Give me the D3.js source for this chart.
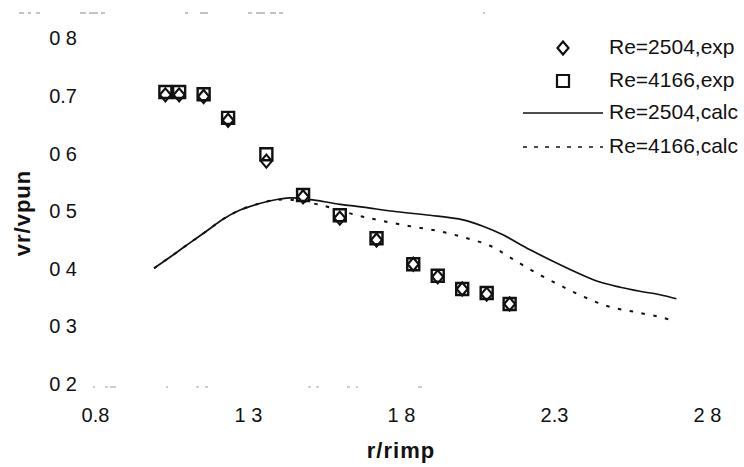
<!DOCTYPE html>
<html>
<head>
<meta charset="utf-8">
<script src="https://cdn.jsdelivr.net/npm/d3@7"></script>
<style>
  body { margin: 0; background: #fff; }
  svg text { font-family: "Liberation Sans", Arial, sans-serif; fill: #111; }
</style>
</head>
<body>
<div id="chart"></div>
<script>
// experimental points (r/rimp vs vr/vpun)
var expX = [1.03, 1.075, 1.155, 1.235, 1.36, 1.48, 1.60, 1.72, 1.84, 1.92, 2.00, 2.08, 2.155];
var exp2504 = [0.702, 0.702, 0.699, 0.658, 0.587, 0.525, 0.488, 0.450, 0.408, 0.386, 0.365, 0.356, 0.339];
var exp4166 = [0.707, 0.707, 0.703, 0.662, 0.599, 0.528, 0.493, 0.453, 0.408, 0.388, 0.365, 0.358, 0.339];

// calculated curves
var calc2504X = [0.993, 1.055, 1.11, 1.166, 1.218, 1.274, 1.329, 1.382, 1.437, 1.493, 1.601, 1.676, 1.787, 1.895, 2.003, 2.068, 2.133, 2.222, 2.32, 2.385, 2.45, 2.516, 2.581, 2.646, 2.70];
var calc2504Y = [0.401, 0.424, 0.445, 0.466, 0.486, 0.502, 0.512, 0.519, 0.523, 0.521, 0.512, 0.507, 0.499, 0.493, 0.485, 0.474, 0.459, 0.433, 0.407, 0.391, 0.377, 0.368, 0.361, 0.355, 0.348];
var calc4166X = [0.993, 1.055, 1.11, 1.166, 1.218, 1.274, 1.329, 1.382, 1.437, 1.535, 1.656, 1.741, 1.829, 1.918, 2.003, 2.091, 2.156, 2.231, 2.31, 2.391, 2.476, 2.565, 2.656, 2.695];
var calc4166Y = [0.401, 0.424, 0.445, 0.466, 0.486, 0.502, 0.512, 0.519, 0.520, 0.511, 0.493, 0.483, 0.474, 0.466, 0.455, 0.440, 0.420, 0.396, 0.374, 0.353, 0.335, 0.325, 0.315, 0.308];

var xTicks = [0.8, 1.3, 1.8, 2.3, 2.8];
var xTickLabels = ["0.8", "1 3", "1 8", "2.3", "2 8"];
var yTicks = [0.2, 0.3, 0.4, 0.5, 0.6, 0.7, 0.8];
var yTickLabels = ["0 2", "0 3", "0 4", "0 5", "0 6", "0.7", "0 8"];

var legendNames = ["Re=2504,exp", "Re=4166,exp", "Re=2504,calc", "Re=4166,calc"];

var W = 744, H = 467;
var x = d3.scaleLinear().domain([0.8, 2.8]).range([95, 707]);
var y = d3.scaleLinear().domain([0.2, 0.8]).range([384, 38.4]);

var svg = d3.select("#chart").append("svg")
    .attr("width", W)
    .attr("height", H);

// faint remains of the scanned frame
svg.append("line")
    .attr("x1", 19).attr("x2", 700).attr("y1", 13).attr("y2", 13)
    .attr("stroke", "#888").attr("stroke-width", 1)
    .attr("stroke-dasharray", "5,4,3,5,4,40,6,3,9,3,4,80,3,12,8,40,4,4,9,5,6,3,4,200,2,300");
svg.append("line")
    .attr("x1", 93).attr("x2", 560).attr("y1", y(0.2) + 3).attr("y2", y(0.2) + 3)
    .attr("stroke", "#999").attr("stroke-width", 1)
    .attr("stroke-dasharray", "2,10,3,2,6,50,2,28,3,6,3,100,3,5,3,28,3,6,2,60,4,300");

// axes (text only, lines hidden)
var xAxis = svg.append("g")
    .attr("transform", "translate(0," + (y(0.2) + 24) + ")")
    .call(d3.axisBottom(x).tickValues(xTicks).tickSize(0)
        .tickFormat(function(d, i) { return xTickLabels[i]; }));
xAxis.select(".domain").remove();
xAxis.selectAll("text").style("font-size", "20px").attr("dy", "0.71em").attr("y", 0);

var yAxis = svg.append("g")
    .attr("transform", "translate(77,0)")
    .call(d3.axisLeft(y).tickValues(yTicks).tickSize(0)
        .tickFormat(function(d, i) { return yTickLabels[i]; }));
yAxis.select(".domain").remove();
yAxis.selectAll("text").style("font-size", "20px").attr("x", 0);

// axis titles
svg.append("text")
    .attr("transform", "translate(30,213)rotate(-90)")
    .attr("text-anchor", "middle")
    .style("font-size", "22px")
    .style("font-weight", "bold")
    .style("letter-spacing", "1px")
    .text("vr/vpun");
svg.append("text")
    .attr("x", 401).attr("y", 458)
    .attr("text-anchor", "middle")
    .style("font-size", "22px")
    .style("font-weight", "bold")
    .style("letter-spacing", "1px")
    .text("r/rimp");

// curves
var line = d3.line()
    .x(function(d) { return x(d[0]); })
    .y(function(d) { return y(d[1]); })
    .curve(d3.curveCatmullRom);

svg.append("path")
    .datum(d3.zip(calc2504X, calc2504Y))
    .attr("fill", "none")
    .attr("stroke", "#111")
    .attr("stroke-width", 1.7)
    .attr("d", line);

svg.append("path")
    .datum(d3.zip(calc4166X, calc4166Y))
    .attr("fill", "none")
    .attr("stroke", "#111")
    .attr("stroke-width", 2)
    .attr("stroke-dasharray", "3.5,8.5")
    .attr("d", line);

// markers
function squarePath(s) {
    return "M" + (-s) + "," + (-s) + "H" + s + "V" + s + "H" + (-s) + "Z";
}
function diamondPath(w, h) {
    return "M0," + (-h) + "L" + w + ",0L0," + h + "L" + (-w) + ",0Z";
}

svg.selectAll(".sq")
    .data(d3.zip(expX, exp4166))
    .enter().append("path")
    .attr("class", "sq")
    .attr("transform", function(d) { return "translate(" + x(d[0]) + "," + y(d[1]) + ")"; })
    .attr("d", squarePath(6))
    .attr("fill", "#fff")
    .attr("stroke", "#111")
    .attr("stroke-width", 2.4);

svg.selectAll(".dm")
    .data(d3.zip(expX, exp2504))
    .enter().append("path")
    .attr("class", "dm")
    .attr("transform", function(d) { return "translate(" + x(d[0]) + "," + y(d[1]) + ")"; })
    .attr("d", diamondPath(5.5, 6.5))
    .attr("fill", "none")
    .attr("stroke", "#111")
    .attr("stroke-width", 2.2);

// legend
var legY = [48, 81, 113, 147];
var leg = svg.append("g");
leg.append("path")
    .attr("transform", "translate(563," + legY[0] + ")")
    .attr("d", diamondPath(5.5, 6.5))
    .attr("fill", "#fff").attr("stroke", "#111").attr("stroke-width", 2.2);
leg.append("path")
    .attr("transform", "translate(563," + legY[1] + ")")
    .attr("d", squarePath(6))
    .attr("fill", "#fff").attr("stroke", "#111").attr("stroke-width", 2.2);
leg.append("line")
    .attr("x1", 523).attr("x2", 603).attr("y1", legY[2]).attr("y2", legY[2])
    .attr("stroke", "#111").attr("stroke-width", 1.7);
leg.append("line")
    .attr("x1", 523).attr("x2", 603).attr("y1", legY[3]).attr("y2", legY[3])
    .attr("stroke", "#111").attr("stroke-width", 1.7)
    .attr("stroke-dasharray", "4,7");
leg.selectAll("text")
    .data(legendNames)
    .enter().append("text")
    .attr("x", 609)
    .attr("y", function(d, i) { return legY[i] + 6; })
    .style("font-size", "21px")
    .text(function(d) { return d; });
</script>
</body>
</html>
